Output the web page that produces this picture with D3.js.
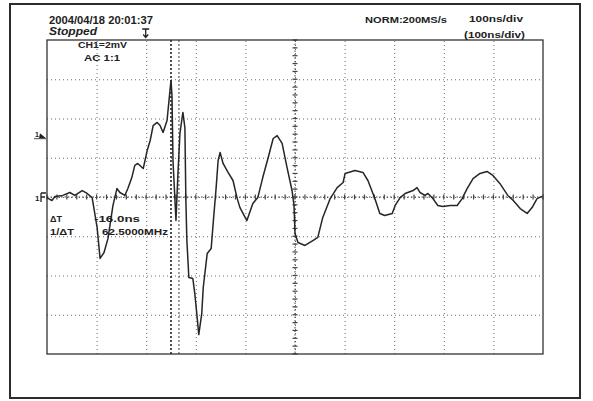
<!DOCTYPE html>
<html>
<head>
<meta charset="utf-8">
<script src="https://cdn.jsdelivr.net/npm/d3@7"></script>
<style>
  html, body { margin: 0; padding: 0; background: #ffffff; }
  svg { display: block; }
  text { font-family: "Liberation Sans", Arial, sans-serif; fill: #222; }
</style>
</head>
<body>
<svg id="scope" width="593" height="401"></svg>
<script>
// Captured channel 1 trace: time after left edge (ns) and amplitude (mV)
const timeNs = [0, 10, 16, 32, 46, 56, 71, 81, 91, 101, 107, 115, 123, 133, 141, 147, 157, 163, 171, 177,
  183, 194, 202, 208, 214, 222, 228, 234, 242, 246, 250, 252, 254, 258, 260, 264, 268, 274, 278, 280,
  282, 286, 294, 298, 302, 306, 312, 315, 323, 331, 335, 341, 345, 349, 355, 365, 375, 383, 389, 403,
  415, 425, 435, 446, 456, 464, 474, 484, 494, 498, 500, 506, 520, 536, 546, 556, 571, 585, 597, 601,
  621, 637, 647, 661, 671, 681, 696, 702, 712, 722, 738, 746, 752, 762, 768, 778, 788, 798, 813, 827,
  837, 847, 859, 873, 887, 899, 913, 929, 940, 954, 968, 978, 988, 998];
const voltsMv = [-0.03, -0.18, 0.03, 0.08, 0.23, 0.08, 0.33, 0.18, -0.03, -1.55, -3.13, -2.83, -2.11, -0.43, 0.43, 0.23, 0.08, 0.43, 0.99, 1.61,
  1.71, 1.45, 2.37, 2.88, 3.64, 3.80, 3.64, 3.29, 3.90, 4.92, 5.94, 5.17, 1.86, -0.18, -1.20, 1.20, 3.24, 4.31, 3.54, -0.18,
  -2.22, -4.10, -4.15, -4.92, -5.94, -7.01, -5.94, -4.61, -2.88, -2.62, -1.35, 0.48, 1.86, 2.27, 1.71, 1.25, 0.84, -0.03, -0.54, -1.20,
  -0.33, -0.03, 0.99, 2.01, 2.98, 3.13, 2.73, 1.50, 0.33, -0.43, -1.86, -2.32, -2.47, -2.22, -2.06, -1.04, -0.08, 0.48, 0.74, 1.20,
  1.35, 1.25, 0.84, -0.08, -0.84, -0.94, -0.84, -0.43, -0.03, 0.18, 0.33, 0.48, 0.23, 0.08, 0.18, -0.08, -0.43, -0.48, -0.43, -0.43,
  -0.08, 0.43, 0.94, 1.20, 1.30, 1.10, 0.69, 0.08, -0.18, -0.59, -0.84, -0.54, -0.08, 0.03];

// Graticule: 10 x 100 ns horizontally, 8 x 2 mV vertically
const timeTicks = [0, 100, 200, 300, 400, 500, 600, 700, 800, 900, 1000];
const voltTicks = [-8, -6, -4, -2, 0, 2, 4, 6, 8];
const minorTimeTicks = d3.range(0, 1001, 20);
const minorVoltTicks = d3.range(-8, 8.01, 0.4);

// Cursor pair readout
const cursorA = 250;
const deltaT = 16.0;
const cursors = [cursorA, cursorA + deltaT];

// Screen readouts
const headerLines = ["2004/04/18 20:01:37", "Stopped"];
const channelLines = ["CH1=2mV", "AC 1:1"];
const acqLabel = "NORM:200MS/s";
const timebaseLines = ["100ns/div", "(100ns/div)"];
const cursorLabels = ["\u0394T", "1/\u0394T"];
const cursorValues = ["-" + deltaT.toFixed(1) + "ns", (1000 / deltaT).toFixed(4) + "MHz"];
const triggerLevelMv = 3.1;

const svg = d3.select("#scope");
const plot = { left: 47, top: 40, width: 496, height: 314 };

const x = d3.scaleLinear().domain([0, 1000]).range([plot.left, plot.left + plot.width]);
const y = d3.scaleLinear().domain([-8, 8]).range([plot.top + plot.height, plot.top]);

// outer printout frame
svg.append("rect")
  .attr("x", 10).attr("y", 4).attr("width", 570).attr("height", 394)
  .attr("fill", "none").attr("stroke", "#2b2b2b").attr("stroke-width", 2);

// dotted graticule via axes
const gridColor = "#6a6a6a";
const xGrid = svg.append("g")
  .attr("transform", `translate(0,${plot.top + plot.height})`)
  .call(d3.axisBottom(x).tickValues(timeTicks.slice(1, -1)).tickSize(-plot.height).tickFormat(""));
const yGrid = svg.append("g")
  .attr("transform", `translate(${plot.left},0)`)
  .call(d3.axisLeft(y).tickValues(voltTicks.slice(1, -1)).tickSize(-plot.width).tickFormat(""));
[xGrid, yGrid].forEach(g => {
  g.select(".domain").remove();
  g.selectAll(".tick line")
    .attr("stroke", gridColor).attr("stroke-width", 1)
    .attr("stroke-dasharray", "1,3");
});

// centre cross with fine division marks
const cx = x(500), cy = y(0);
svg.append("line").attr("x1", cx).attr("x2", cx).attr("y1", plot.top).attr("y2", plot.top + plot.height)
  .attr("stroke", "#444").attr("stroke-width", 1).attr("stroke-dasharray", "1.5,2");
svg.append("line").attr("x1", plot.left).attr("x2", plot.left + plot.width).attr("y1", cy).attr("y2", cy)
  .attr("stroke", "#444").attr("stroke-width", 1).attr("stroke-dasharray", "1.5,2");
svg.append("g").selectAll("line").data(minorTimeTicks).join("line")
  .attr("x1", d => x(d)).attr("x2", d => x(d))
  .attr("y1", cy - 2.5).attr("y2", cy + 2.5)
  .attr("stroke", "#444").attr("stroke-width", 1.2);
svg.append("g").selectAll("line").data(minorVoltTicks).join("line")
  .attr("x1", cx - 2.5).attr("x2", cx + 2.5)
  .attr("y1", d => y(d)).attr("y2", d => y(d))
  .attr("stroke", "#444").attr("stroke-width", 1.2);

// time cursors
svg.append("g").selectAll("line").data(cursors).join("line")
  .attr("x1", d => x(d)).attr("x2", d => x(d))
  .attr("y1", plot.top).attr("y2", plot.top + plot.height)
  .attr("stroke", (d, i) => i === 0 ? "#222" : "#555")
  .attr("stroke-width", (d, i) => i === 0 ? 1.6 : 1.1)
  .attr("stroke-dasharray", "2,2");

// graticule border
svg.append("rect")
  .attr("x", plot.left).attr("y", plot.top).attr("width", plot.width).attr("height", plot.height)
  .attr("fill", "none").attr("stroke", "#333").attr("stroke-width", 1.3);

// trace
const trace = timeNs.map((t, i) => [t, voltsMv[i]]);
svg.append("path")
  .datum(trace)
  .attr("fill", "none")
  .attr("stroke", "#262626")
  .attr("stroke-width", 1.5)
  .attr("stroke-linejoin", "round")
  .attr("d", d3.line().x(d => x(d[0])).y(d => y(d[1])));

// text readouts
function label(txt, px, py, len, opts = {}) {
  const t = svg.append("text")
    .attr("x", px).attr("y", py)
    .attr("font-size", opts.size || 10)
    .attr("font-weight", opts.weight || "bold")
    .attr("font-style", opts.italic ? "italic" : "normal")
    .text(txt);
  if (len) t.attr("textLength", len).attr("lengthAdjust", "spacingAndGlyphs");
  return t;
}
label(headerLines[0], 49, 24, 104, { size: 10 });
label(headerLines[1], 49, 35, 48, { size: 10, italic: true });
label(channelLines[0], 78, 47.5, 49, { size: 9.5 });
label(channelLines[1], 84, 61, 36, { size: 9.5 });
label(acqLabel, 365, 23, 82, { size: 9.5 });
label(timebaseLines[0], 469, 22, 54, { size: 9.5 });
label(timebaseLines[1], 464, 38, 61, { size: 9.5 });
label(cursorLabels[0], 50, 222, 12, { size: 9 });
label(cursorLabels[1], 50, 235, 24, { size: 9 });
label(cursorValues[0], 94, 222, 46, { size: 9 });
label(cursorValues[1], 102, 235, 66, { size: 9 });

// trigger position marker above the graticule
const tx = x(200);
svg.append("path")
  .attr("d", `M${tx - 4},29 H${tx + 3} M${tx - 0.5},29 V37 M${tx - 3},34.5 L${tx - 0.5},37.5 L${tx + 2},34.5`)
  .attr("fill", "none").attr("stroke", "#222").attr("stroke-width", 1.3);

// channel 1 trigger level marker
const ty = y(triggerLevelMv);
label("1", 35, ty + 1, null, { size: 7 });
svg.append("path")
  .attr("d", `M39,${ty + 2} L46,${ty + 2} L40,${ty - 3} Z`)
  .attr("fill", "#222");
svg.append("line").attr("x1", 34).attr("x2", 46).attr("y1", ty + 2.5).attr("y2", ty + 2.5)
  .attr("stroke", "#222").attr("stroke-width", 0.8);

// channel 1 ground marker
label("1", 35, cy + 4, null, { size: 8 });
svg.append("path")
  .attr("d", `M41,${cy - 4} V${cy + 5} M41,${cy - 4} H46 M41,${cy} H45`)
  .attr("fill", "none").attr("stroke", "#222").attr("stroke-width", 1.3);
</script>
</body>
</html>
